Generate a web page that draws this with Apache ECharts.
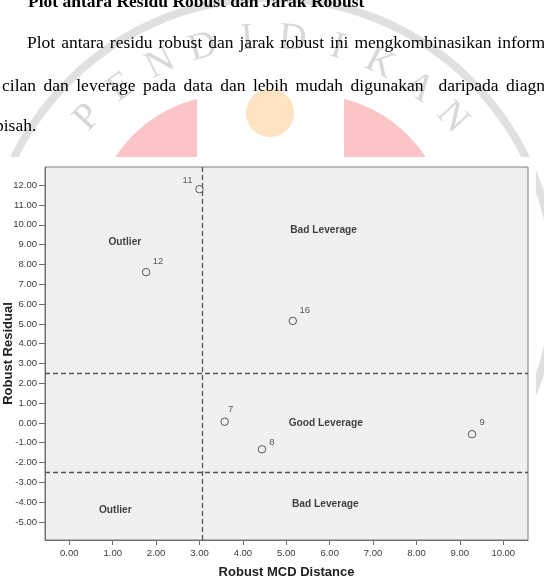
<!DOCTYPE html>
<html lang="id">
<head>
<meta charset="UTF-8">
<title>Plot Residu Robust dan Jarak Robust</title>
<style>
  body { margin: 0; background: #fff; }
  #wrap { position: relative; width: 544px; height: 585px; overflow: hidden; }
  #chart { position: absolute; left: 0; top: 0; width: 544px; height: 585px; }
  .ln {
    position: absolute;
    font-family: 'Liberation Serif', 'Times New Roman', serif;
    font-size: 17.5px;
    line-height: 20px;
    white-space: nowrap;
    color: #000;
  }
  .just { white-space: normal; text-align: justify; text-align-last: justify; }
</style>
</head>
<body>
<div id="wrap">
  <div id="chart"></div>
  <div class="ln" style="left:28px; top:-9px; font-weight:bold">Plot antara Residu Robust dan Jarak Robust</div>
  <div class="ln just" style="left:27px; top:32px; width:518px">Plot antara residu robust dan jarak robust ini mengkombinasikan inform</div>
  <div class="ln just" style="left:2px; top:75px; width:543px">cilan dan leverage pada data dan lebih mudah digunakan &nbsp;daripada diagn</div>
  <div class="ln" style="left:-5px; top:115px">pisah.</div>
</div>

<script src="https://cdn.jsdelivr.net/npm/echarts@6/dist/echarts.min.js"></script>
<script>
// values
var caseIds  = ['11', '12', '16', '7', '8', '9'];
var mcdDist  = [3.00, 1.77, 5.15, 3.58, 4.44, 9.28];
var robResid = [11.80, 7.61, 5.15, 0.06, -1.33, -0.57];

var xTicks = [0, 1, 2, 3, 4, 5, 6, 7, 8, 9, 10];
var yTicks = [-5, -4, -3, -2, -1, 0, 1, 2, 3, 4, 5, 6, 7, 8, 9, 10, 11, 12];

var distCutoff   = 3.06;
var residCutoffs = [2.5, -2.5];

// region captions (data coordinates)
var regionNames = ['Outlier', 'Bad Leverage', 'Good Leverage', 'Bad Leverage', 'Outlier'];
var regionX     = [1.28, 5.86, 5.91, 5.90, 1.06];
var regionY     = [9.14, 9.74, -0.02, -4.09, -4.41];

// where each case number sits relative to its circle (px)
var labelOffsets = [[-12, -9], [12, -11], [12, -11], [6, -12], [10, -7], [10, -12]];

var chart = echarts.init(document.getElementById('chart'));

// faint university logo behind the scanned page
function watermark() {
    var els = [];
    els.push({ type: 'circle', z: -20, shape: { cx: 270, cy: 283, r: 285 },
        style: { fill: 'none', stroke: '#e0e0e0', lineWidth: 8 } });

    // left wing: vertical edge at x=197, arc sweeping down to the left
    var r = 137, cx = 230, cy = 232;
    var a0 = Math.acos((197 - cx) / r);
    var a1 = Math.PI + Math.asin((170 - cy) / r);
    var left = [];
    for (var i = 0; i <= 24; i++) {
        var ang = -(a0 + (a1 - a0) * i / 24);
        left.push([cx + r * Math.cos(ang), cy + r * Math.sin(ang)]);
    }
    left.push([197, 170]);
    var right = left.map(function (p) { return [541 - p[0], p[1]]; });
    els.push({ type: 'polygon', z: -20, shape: { points: left }, style: { fill: '#fbc4c7' } });
    els.push({ type: 'polygon', z: -20, shape: { points: right }, style: { fill: '#fbc4c7' } });
    els.push({ type: 'circle', z: -20, shape: { cx: 270, cy: 113, r: 24 }, style: { fill: '#fde3c2' } });

    var word = 'AS PENDIDIKAN';
    for (var k = 0; k < word.length; k++) {
        if (word[k] === ' ') continue;
        var deg = (k - 7.5) * 10.5;
        var rad = deg * Math.PI / 180;
        els.push({
            type: 'text', z: -19,
            x: 270 + 248 * Math.sin(rad), y: 286 - 248 * Math.cos(rad),
            rotation: -rad,
            style: { text: word[k], fill: '#d8d8d8', font: '38px "Liberation Serif"', align: 'center', verticalAlign: 'middle' }
        });
    }
    // the chart picture is pasted over the logo
    els.push({ type: 'rect', z: -10, shape: { x: 0, y: 157, width: 536, height: 430 }, style: { fill: '#fff' } });
    return els;
}

var points = caseIds.map(function (id, i) {
    return {
        value: [mcdDist[i], robResid[i]],
        name: id,
        label: { offset: labelOffsets[i] }
    };
});

var regions = regionNames.map(function (n, i) {
    return { value: [regionX[i], regionY[i]], name: n };
});

function fmt(v) { return v.toFixed(2); }

var nameStyle = { fontFamily: 'Liberation Sans', fontWeight: 'bold', fontSize: 13, color: '#222' };
var tickLabel = { formatter: fmt, margin: 8, fontFamily: 'Liberation Sans', fontSize: 9.5, color: '#3a3a3a' };

chart.setOption({
    animation: false,
    graphic: { elements: watermark() },
    grid: {
        left: 45, top: 167, right: 16, bottom: 45,
        containLabel: false, outerBoundsMode: 'none',
        show: true, backgroundColor: '#f0f0f0', borderColor: '#7a7a7a', borderWidth: 1
    },
    xAxis: {
        type: 'value', min: -0.56, max: 10.57,
        name: 'Robust MCD Distance', nameLocation: 'middle', nameGap: 26,
        nameMoveOverlap: false,
        nameTextStyle: nameStyle,
        axisLine: { onZero: false, lineStyle: { color: '#6e6e6e' } },
        axisTick: { customValues: xTicks, length: 5, lineStyle: { color: '#6e6e6e' } },
        axisLabel: Object.assign({ customValues: xTicks }, tickLabel),
        splitLine: { show: false }
    },
    yAxis: {
        type: 'value', min: -5.91, max: 12.92,
        name: 'Robust Residual', nameLocation: 'middle', nameGap: 30,
        nameMoveOverlap: false,
        nameTextStyle: nameStyle,
        axisLine: { show: true, onZero: false, lineStyle: { color: '#6e6e6e' } },
        axisTick: { show: true, customValues: yTicks, length: 6, lineStyle: { color: '#6e6e6e' } },
        axisLabel: Object.assign({ customValues: yTicks }, tickLabel),
        splitLine: { show: false }
    },
    series: [
        {
            type: 'scatter',
            data: points,
            symbol: 'circle',
            symbolSize: 7.5,
            itemStyle: { color: 'rgba(0,0,0,0)', borderColor: '#333', borderWidth: 1 },
            label: {
                show: true, position: 'inside', formatter: '{b}',
                fontFamily: 'Liberation Sans', fontSize: 9.5, color: '#333'
            },
            markLine: {
                silent: true, symbol: 'none',
                label: { show: false },
                lineStyle: { type: [5, 3], color: '#555', width: 1.3 },
                data: [{ xAxis: distCutoff }].concat(residCutoffs.map(function (v) { return { yAxis: v }; }))
            },
            z: 3
        },
        {
            type: 'scatter',
            data: regions,
            symbolSize: 0,
            silent: true,
            label: {
                show: true, position: 'inside', formatter: '{b}',
                fontFamily: 'Liberation Sans', fontWeight: 'bold', fontSize: 10.2, color: '#111'
            }
        }
    ]
});
</script>
</body>
</html>
